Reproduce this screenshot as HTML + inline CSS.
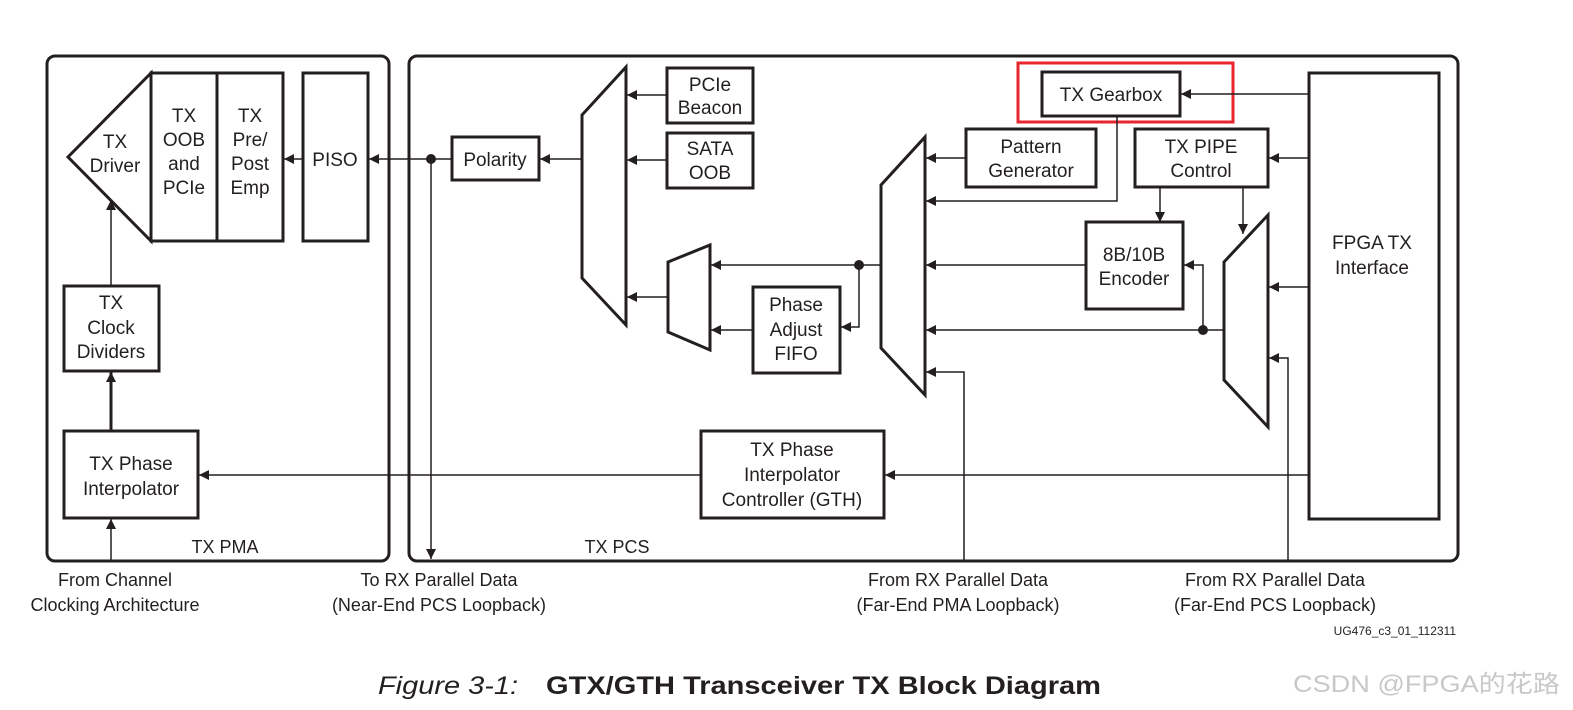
<!DOCTYPE html>
<html><head><meta charset="utf-8"><style>
html,body{margin:0;padding:0;background:#fff;}
svg{display:block;}
text{font-family:"Liberation Sans",sans-serif;fill:#231f20;}
</style></head><body>
<svg width="1573" height="710" viewBox="0 0 1573 710" xmlns="http://www.w3.org/2000/svg">
<defs>
<marker id="a" viewBox="0 0 10 10" refX="10" refY="5" markerWidth="12" markerHeight="10" markerUnits="userSpaceOnUse" orient="auto"><path d="M0,0 L10,5 L0,10 z" fill="#231f20"/></marker>
</defs>
<g fill="none" stroke="#231f20">
<!-- outer boxes -->
<rect x="47" y="56" width="342" height="505" rx="8" stroke-width="3"/>
<rect x="409" y="56" width="1049" height="505" rx="8" stroke-width="3"/>
<!-- PMA -->
<g stroke-width="3">
<polygon points="68,157 151,73 151,241"/>
<rect x="151" y="73" width="66" height="168"/>
<rect x="217" y="73" width="66" height="168"/>
<rect x="303" y="73" width="65" height="168"/>
<rect x="64" y="286" width="95" height="85"/>
<rect x="64" y="431" width="134" height="87"/>
<!-- PCS -->
<rect x="452" y="137" width="87" height="43"/>
<polygon points="582,115 626,67 626,325 582,278"/>
<rect x="667" y="68" width="86" height="55"/>
<rect x="667" y="133" width="86" height="55"/>
<polygon points="668,262 710,245 710,350 668,332"/>
<rect x="753" y="287" width="87" height="86"/>
<polygon points="881,185 925,137 925,395 881,348"/>
<rect x="966" y="129" width="130" height="58"/>
<rect x="1042" y="72" width="138" height="44"/>
<rect x="1135" y="129" width="133" height="58"/>
<rect x="1086" y="222" width="97" height="87"/>
<polygon points="1224,262 1268,215 1268,427 1224,380"/>
<rect x="1309" y="73" width="130" height="446"/>
<rect x="701" y="431" width="183" height="87"/>
</g>
<rect x="1018" y="63" width="215" height="59" stroke="#e8262e" stroke-width="3"/>
<!-- connectors -->
<g stroke-width="1.5" marker-end="url(#a)">
<line x1="303" y1="159" x2="284" y2="159"/>
<line x1="452" y1="159" x2="369" y2="159"/>
<line x1="431" y1="159" x2="431" y2="559"/>
<line x1="582" y1="159" x2="540" y2="159"/>
<line x1="667" y1="95" x2="627" y2="95"/>
<line x1="667" y1="160" x2="627" y2="160"/>
<line x1="668" y1="297" x2="627" y2="297"/>
<line x1="881" y1="265" x2="711" y2="265"/>
<polyline points="859,265 859,327 841,327"/>
<line x1="753" y1="330" x2="711" y2="330"/>
<line x1="966" y1="158" x2="926" y2="158"/>
<polyline points="1117,116 1117,201 926,201"/>
<line x1="1086" y1="265" x2="926" y2="265"/>
<line x1="1224" y1="330" x2="926" y2="330"/>
<polyline points="1203,330 1203,265 1184,265"/>
<line x1="1160" y1="187" x2="1160" y2="222"/>
<line x1="1243" y1="187" x2="1243" y2="234"/>
<line x1="1309" y1="94" x2="1181" y2="94"/>
<line x1="1309" y1="158" x2="1269" y2="158"/>
<line x1="1309" y1="287" x2="1269" y2="287"/>
<polyline points="1288,561 1288,358 1269,358"/>
<polyline points="964,561 964,372 926,372"/>
<line x1="1309" y1="475" x2="885" y2="475"/>
<line x1="701" y1="475" x2="199" y2="475"/>
<line x1="111" y1="286" x2="111" y2="200"/>
<line x1="111" y1="561" x2="111" y2="519"/>
</g>
<line x1="111" y1="431" x2="111" y2="372" stroke-width="3" marker-end="url(#a)"/>
</g>
<g fill="#231f20"><circle cx="431" cy="159" r="5"/><circle cx="859" cy="265" r="5"/><circle cx="1203" cy="330" r="5"/></g>
<g font-size="19" text-anchor="middle">
<text x="115" y="148">TX</text><text x="115" y="172">Driver</text>
<text x="184" y="122">TX</text><text x="184" y="146">OOB</text><text x="184" y="170">and</text><text x="184" y="194">PCIe</text>
<text x="250" y="122">TX</text><text x="250" y="146">Pre/</text><text x="250" y="170">Post</text><text x="250" y="194">Emp</text>
<text x="335" y="166">PISO</text>
<text x="111" y="309">TX</text><text x="111" y="334">Clock</text><text x="111" y="358">Dividers</text>
<text x="131" y="470">TX Phase</text><text x="131" y="495">Interpolator</text>
<text x="495" y="166">Polarity</text>
<text x="710" y="91">PCIe</text><text x="710" y="114">Beacon</text>
<text x="710" y="155">SATA</text><text x="710" y="179">OOB</text>
<text x="796" y="311">Phase</text><text x="796" y="336">Adjust</text><text x="796" y="360">FIFO</text>
<text x="1031" y="153">Pattern</text><text x="1031" y="177">Generator</text>
<text x="1111" y="101">TX Gearbox</text>
<text x="1201" y="153">TX PIPE</text><text x="1201" y="177">Control</text>
<text x="1134" y="261">8B/10B</text><text x="1134" y="285">Encoder</text>
<text x="1372" y="249">FPGA TX</text><text x="1372" y="274">Interface</text>
<text x="792" y="456">TX Phase</text><text x="792" y="481">Interpolator</text><text x="792" y="506">Controller (GTH)</text>
<text x="225" y="553" font-size="18">TX PMA</text>
<text x="617" y="553" font-size="18">TX PCS</text>
<g font-size="18">
<text x="115" y="586">From Channel</text><text x="115" y="611">Clocking Architecture</text>
<text x="439" y="586">To RX Parallel Data</text><text x="439" y="611">(Near-End PCS Loopback)</text>
<text x="958" y="586">From RX Parallel Data</text><text x="958" y="611">(Far-End PMA Loopback)</text>
<text x="1275" y="586">From RX Parallel Data</text><text x="1275" y="611">(Far-End PCS Loopback)</text>
</g>
</g>
<text x="1456" y="635" font-size="12" text-anchor="end">UG476_c3_01_112311</text>
<text x="378" y="694" font-size="25" font-style="italic" textLength="140" lengthAdjust="spacingAndGlyphs">Figure 3-1:</text>
<text x="546" y="694" font-size="25" font-weight="bold" textLength="555" lengthAdjust="spacingAndGlyphs">GTX/GTH Transceiver TX Block Diagram</text>
<text x="1293" y="692" font-size="24" style="fill:#c8c8c8;font-family:'Liberation Sans','Noto Sans CJK SC',sans-serif" textLength="267" lengthAdjust="spacingAndGlyphs">CSDN @FPGA的花路</text>
</svg>
</body></html>
